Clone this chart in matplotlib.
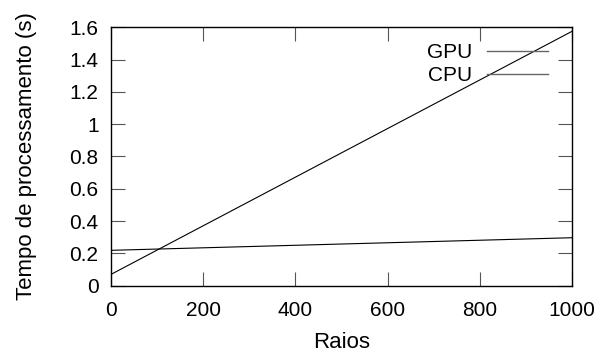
import matplotlib
matplotlib.use("Agg")
import matplotlib.pyplot as plt

plt.rcParams['font.family'] = ['Liberation Sans', 'DejaVu Sans']

rays = [0, 1000]
gpu = [0.219, 0.297]
cpu = [0.07, 1.575]
xticks = [0, 200, 400, 600, 800, 1000]
yticks = [0, 0.2, 0.4, 0.6, 0.8, 1, 1.2, 1.4, 1.6]
yticklabels = ['0', '0.2', '0.4', '0.6', '0.8', '1', '1.2', '1.4', '1.6']

fig = plt.figure(figsize=(6.01, 3.58), dpi=100)
ax = fig.add_axes([0.1847, 0.202, 0.767, 0.7217])
ax.plot(rays, gpu, color='black', lw=0.8, label='GPU')
ax.plot(rays, cpu, color='black', lw=0.8, label='CPU')
ax.set_xlim(0, 1000)
ax.set_ylim(0, 1.6)
ax.set_xticks(xticks)
ax.set_yticks(yticks)
ax.set_yticklabels(yticklabels)
ax.tick_params(direction='in', length=10, width=0.8, color='#555555', top=True, right=True,
               labelsize=15)
ax.tick_params(axis='x', pad=11)
ax.tick_params(axis='y', pad=9)
for s in ax.spines.values():
    s.set_linewidth(1.0)
ax.set_xlabel('Raios', fontsize=16, labelpad=9)
ax.set_ylabel('Tempo de processamento (s)', fontsize=16, labelpad=23)
leg = ax.legend(loc='upper right', markerfirst=False, frameon=False, fontsize=15,
                handlelength=2.95, handletextpad=0.7, labelspacing=0.22,
                borderaxespad=0.0, borderpad=0.0, bbox_to_anchor=(0.948, 0.94))
for h in leg.get_lines():
    h.set_color('#666666')
    h.set_linewidth(1.0)
fig.savefig('out.png', dpi=100)
